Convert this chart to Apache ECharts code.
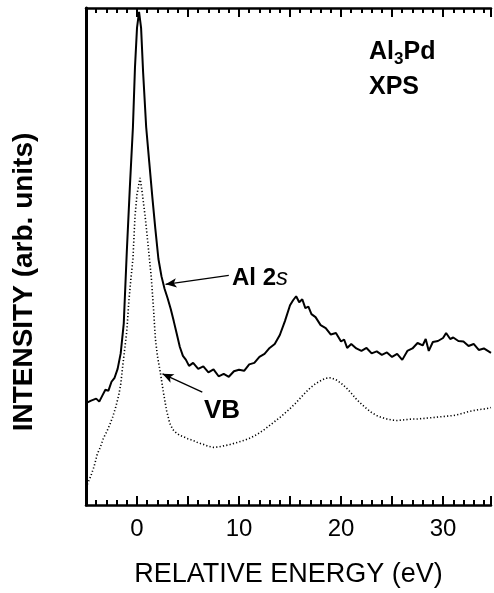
<!DOCTYPE html>
<html lang="en">
<head>
  <meta charset="UTF-8">
  <title>Al3Pd XPS</title>
  <script src="https://cdn.jsdelivr.net/npm/echarts@6/dist/echarts.min.js"></script>
  <style>
    html, body { margin: 0; padding: 0; background: #fff; }
    #chart { width: 494px; height: 593px; }
  </style>
</head>
<body>
  <div id="chart"></div>
  <script>
    // Al 2s core level (solid line)
    const al2sEnergy = [-5.0, -4.5, -4.0, -3.7, -3.4, -3.1, -2.8, -2.5, -2.2, -1.9, -1.6, -1.3, -1.0, -0.7, -0.4, -0.2, 0.0, 0.2, 0.4, 0.6, 0.9, 1.2, 1.5, 1.8, 2.1, 2.4, 2.7, 3.0, 3.3, 3.6, 3.9, 4.2, 4.5, 4.8, 5.1, 5.5, 6.0, 6.5, 7.0, 7.5, 8.0, 8.5, 9.0, 9.5, 10.0, 10.5, 11.0, 11.5, 12.0, 12.5, 13.0, 13.5, 14.0, 14.5, 15.0, 15.3, 15.6, 15.9, 16.2, 16.5, 16.8, 17.1, 17.5, 18.0, 18.5, 19.0, 19.5, 20.0, 20.3, 20.6, 21.0, 21.5, 22.0, 22.5, 23.0, 23.5, 24.0, 24.5, 25.0, 25.5, 26.0, 26.5, 27.0, 27.5, 28.0, 28.3, 28.6, 29.0, 29.5, 30.0, 30.3, 30.7, 31.0, 31.5, 32.0, 32.5, 33.0, 33.5, 34.0, 34.7];
    const al2sIntensity = [20.5, 21.0, 21.4, 20.8, 22.0, 23.2, 23.0, 24.8, 25.6, 27.4, 30.5, 36.5, 51.0, 64.0, 76.0, 88.0, 96.0, 99.2, 96.0, 87.0, 76.0, 69.0, 62.0, 55.5, 49.5, 46.0, 43.5, 41.6, 39.5, 37.0, 34.4, 31.8, 30.0, 29.2, 28.0, 28.6, 27.4, 27.9, 26.7, 27.3, 25.9, 26.4, 25.8, 26.9, 27.2, 27.0, 28.3, 28.6, 29.8, 30.4, 31.6, 32.4, 34.2, 37.0, 40.2, 41.2, 42.0, 40.8, 41.4, 39.6, 39.9, 38.4, 37.8, 36.2, 35.6, 34.3, 34.6, 32.9, 33.3, 31.6, 32.4, 31.5, 31.0, 31.6, 30.5, 30.9, 30.2, 30.7, 29.8, 30.4, 29.2, 31.0, 31.5, 32.6, 32.1, 33.4, 31.0, 32.8, 33.0, 33.6, 34.6, 33.4, 33.7, 33.0, 32.9, 32.0, 32.4, 31.2, 31.5, 30.6];

    // valence band (dotted)
    const vbEnergy = [-5.0, -4.8, -4.5, -4.2, -3.9, -3.6, -3.3, -3.0, -2.7, -2.4, -2.1, -1.8, -1.6, -1.4, -1.2, -1.0, -0.8, -0.6, -0.4, -0.2, 0.0, 0.3, 0.5, 0.8, 1.1, 1.4, 1.6, 1.8, 2.0, 2.3, 2.6, 2.9, 3.2, 3.5, 3.8, 4.2, 4.6, 5.0, 5.5, 6.0, 6.5, 7.0, 7.5, 8.0, 8.5, 9.0, 9.5, 10.0, 10.5, 11.0, 11.5, 12.0, 12.5, 13.0, 13.5, 14.0, 14.5, 15.0, 15.5, 16.0, 16.5, 17.0, 17.5, 18.0, 18.5, 19.0, 19.5, 20.0, 20.5, 21.0, 21.5, 22.0, 22.5, 23.0, 23.5, 24.0, 24.5, 25.0, 25.5, 26.0, 26.5, 27.0, 27.5, 28.0, 28.5, 29.0, 29.5, 30.0, 30.5, 31.0, 31.5, 32.0, 32.5, 33.0, 33.5, 34.0, 34.7];
    const vbIntensity = [3.5, 4.5, 6.0, 7.8, 10.2, 11.6, 13.4, 14.6, 16.0, 17.6, 19.6, 22.0, 24.2, 28.0, 31.5, 35.0, 41.0, 45.5, 49.5, 58.0, 62.5, 65.8, 63.0, 58.0, 52.0, 45.8, 40.0, 33.5, 30.0, 26.5, 22.5, 19.0, 16.5, 15.2, 14.6, 14.0, 13.7, 13.3, 13.0, 12.5, 12.2, 11.8, 11.6, 11.7, 11.9, 12.1, 12.4, 12.7, 13.0, 13.4, 13.9, 14.5, 15.2, 16.0, 16.8, 17.6, 18.5, 19.4, 20.4, 21.5, 22.6, 23.6, 24.4, 25.0, 25.5, 25.6, 25.2, 24.5, 23.6, 22.5, 21.3, 20.3, 19.4, 18.6, 18.0, 17.6, 17.3, 17.1, 17.0, 17.1, 17.2, 17.3, 17.3, 17.4, 17.5, 17.6, 17.7, 17.8, 17.9, 18.0, 18.2, 18.5, 18.8, 19.0, 19.2, 19.3, 19.6];

    const xTickLabels = [0, 10, 20, 30];

    // arrow annotations: [fromE, fromI, toE, toI]
    const al2sArrow = [9.0, 46.2, 2.8, 44.4];
    const vbArrow = [6.4, 22.7, 2.5, 26.4];

    const chart = echarts.init(document.getElementById('chart'));

    const al2sData = al2sEnergy.map((e, i) => [e, al2sIntensity[i]]);
    const vbData = vbEnergy.map((e, i) => [e, vbIntensity[i]]);

    const fontMain = 'Liberation Sans, Arial, sans-serif';

    function arrowLine(a) {
      return [
        { coord: [a[0], a[1]], symbol: 'none' },
        { coord: [a[2], a[3]], symbol: 'arrow', symbolSize: [7, 11] }
      ];
    }

    const xCommon = {
      type: 'value',
      min: -5,
      max: 34.7,
      interval: 5,
      splitLine: { show: false },
      axisLine: { show: true, onZero: false, lineStyle: { color: '#000', width: 2.5 } },
      axisTick: { show: true, inside: true, length: 9, lineStyle: { color: '#000', width: 2 } },
      minorTick: { show: true, splitNumber: 5, length: 5, lineStyle: { color: '#000', width: 2 } }
    };

    const option = {
      animation: false,
      backgroundColor: '#fff',
      grid: { left: 86, top: 8, right: 0, bottom: 74, containLabel: false },
      xAxis: [
        Object.assign({}, xCommon, {
          position: 'bottom',
          name: 'RELATIVE ENERGY (eV)',
          nameLocation: 'middle',
          nameGap: 56,
          nameTextStyle: { fontFamily: fontMain, fontSize: 27, color: '#000' },
          axisLabel: {
            margin: 12,
            fontFamily: fontMain,
            fontSize: 24,
            color: '#000',
            formatter: v => xTickLabels.includes(v) ? String(v) : ''
          }
        }),
        Object.assign({}, xCommon, {
          position: 'top',
          axisLabel: { show: false }
        })
      ],
      yAxis: {
        type: 'value',
        min: 0,
        max: 100,
        axisLine: { show: true, onZero: false, lineStyle: { color: '#000', width: 3 } },
        axisTick: { show: false },
        axisLabel: { show: false },
        splitLine: { show: false }
      },
      series: [
        {
          name: 'Al 2s',
          type: 'line',
          data: al2sData,
          showSymbol: false,
          lineStyle: { color: '#000', width: 2 },
          markLine: {
            silent: true,
            label: { show: false },
            lineStyle: { color: '#000', width: 1.3, type: 'solid' },
            data: [arrowLine(al2sArrow)]
          }
        },
        {
          name: 'VB',
          type: 'line',
          data: vbData,
          showSymbol: false,
          lineStyle: { color: '#000', width: 1.6, type: [1.2, 2.2] },
          markLine: {
            silent: true,
            label: { show: false },
            lineStyle: { color: '#000', width: 1.3, type: 'solid' },
            data: [arrowLine(vbArrow)]
          }
        }
      ],
      graphic: [
        {
          type: 'text',
          x: 24, y: 282,
          rotation: Math.PI / 2,
          style: {
            text: 'INTENSITY (arb. units)',
            font: 'bold 28px ' + fontMain,
            fill: '#000',
            align: 'center',
            verticalAlign: 'middle'
          }
        },
        {
          type: 'text',
          x: 369, y: 52,
          style: {
            text: '{a|Al}{s|3}{a|Pd}',
            verticalAlign: 'middle',
            rich: {
              a: { font: 'bold 25px ' + fontMain, fill: '#000' },
              s: { font: 'bold 17px ' + fontMain, fill: '#000', padding: [15, 0, 0, 0] }
            }
          }
        },
        {
          type: 'text',
          x: 369, y: 87,
          style: {
            text: 'XPS',
            font: 'bold 25px ' + fontMain,
            fill: '#000',
            verticalAlign: 'middle'
          }
        },
        {
          type: 'text',
          x: 232, y: 278,
          style: {
            text: '{b|Al 2}{i|s}',
            verticalAlign: 'middle',
            rich: {
              b: { font: 'bold 24px ' + fontMain, fill: '#000' },
              i: { font: 'italic 24px ' + fontMain, fill: '#000' }
            }
          }
        },
        {
          type: 'text',
          x: 204, y: 411,
          style: {
            text: 'VB',
            font: 'bold 26px ' + fontMain,
            fill: '#000',
            verticalAlign: 'middle'
          }
        }
      ]
    };

    chart.setOption(option);
  </script>
</body>
</html>
